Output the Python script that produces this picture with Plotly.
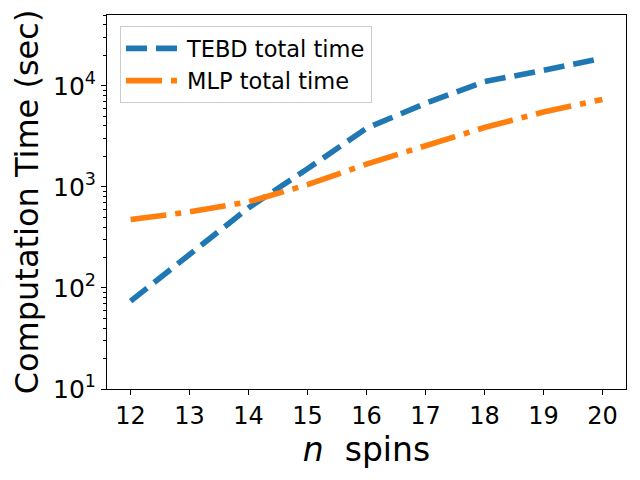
import plotly.graph_objects as go

n_spins = [12, 13, 14, 15, 16, 17, 18, 19, 20]
tebd_time = [74, 214, 620, 1510, 3800, 6700, 11000, 14200, 18700]
mlp_time = [475, 565, 710, 1050, 1680, 2520, 3860, 5500, 7330]

major_vals = [10, 100, 1000, 10000]
major_text = ["10<sup>1</sup>", "10<sup>2</sup>", "10<sup>3</sup>", "10<sup>4</sup>"]
minor_vals = [m * 10 ** e for e in range(1, 5) for m in range(2, 10)]

fig = go.Figure()
fig.add_trace(go.Scatter(
    x=n_spins, y=tebd_time, mode="lines", name="TEBD total time",
    line=dict(color="#1f77b4", width=5.6, dash="21px,9px"),
))
fig.add_trace(go.Scatter(
    x=n_spins, y=mlp_time, mode="lines", name="MLP total time",
    line=dict(color="#ff7f0e", width=5.6, dash="36px,9px,6px,9px"),
))

# the page body has an 8px margin, so the figure is a bit smaller and offset
fig.update_layout(
    width=632, height=472,
    margin=dict(l=99, r=14, t=7, b=91),
    paper_bgcolor="white", plot_bgcolor="white",
    font=dict(family="DejaVu Sans", color="black"),
    showlegend=True,
    legend=dict(
        x=0.025, y=0.97, xanchor="left", yanchor="top",
        font=dict(size=22.5), bgcolor="rgba(255,255,255,0.8)",
        bordercolor="#cccccc", borderwidth=1,
        itemwidth=56, tracegroupgap=0,
    ),
)
fig.update_xaxes(
    range=[11.6, 20.4], tickvals=n_spins, showgrid=False, zeroline=False,
    showline=True, mirror=True, linecolor="black", linewidth=1.1,
    ticks="outside", ticklen=5, tickcolor="black", tickfont=dict(size=24),
    automargin=False,
    title=dict(text="<i>n</i>  spins", font=dict(size=33), standoff=0),
)
fig.update_yaxes(
    type="log", range=[1, 4.70], tickvals=major_vals, ticktext=major_text,
    showgrid=False, zeroline=False,
    showline=True, mirror=True, linecolor="black", linewidth=1.1,
    ticks="outside", ticklen=5, tickcolor="black", tickfont=dict(size=25),
    automargin=False,
    minor=dict(tickvals=minor_vals, ticks="outside", ticklen=3, tickcolor="black", showgrid=False),
    title=dict(text="Computation Time (sec)", font=dict(size=32), standoff=5),
)

fig.write_html("out.html")
